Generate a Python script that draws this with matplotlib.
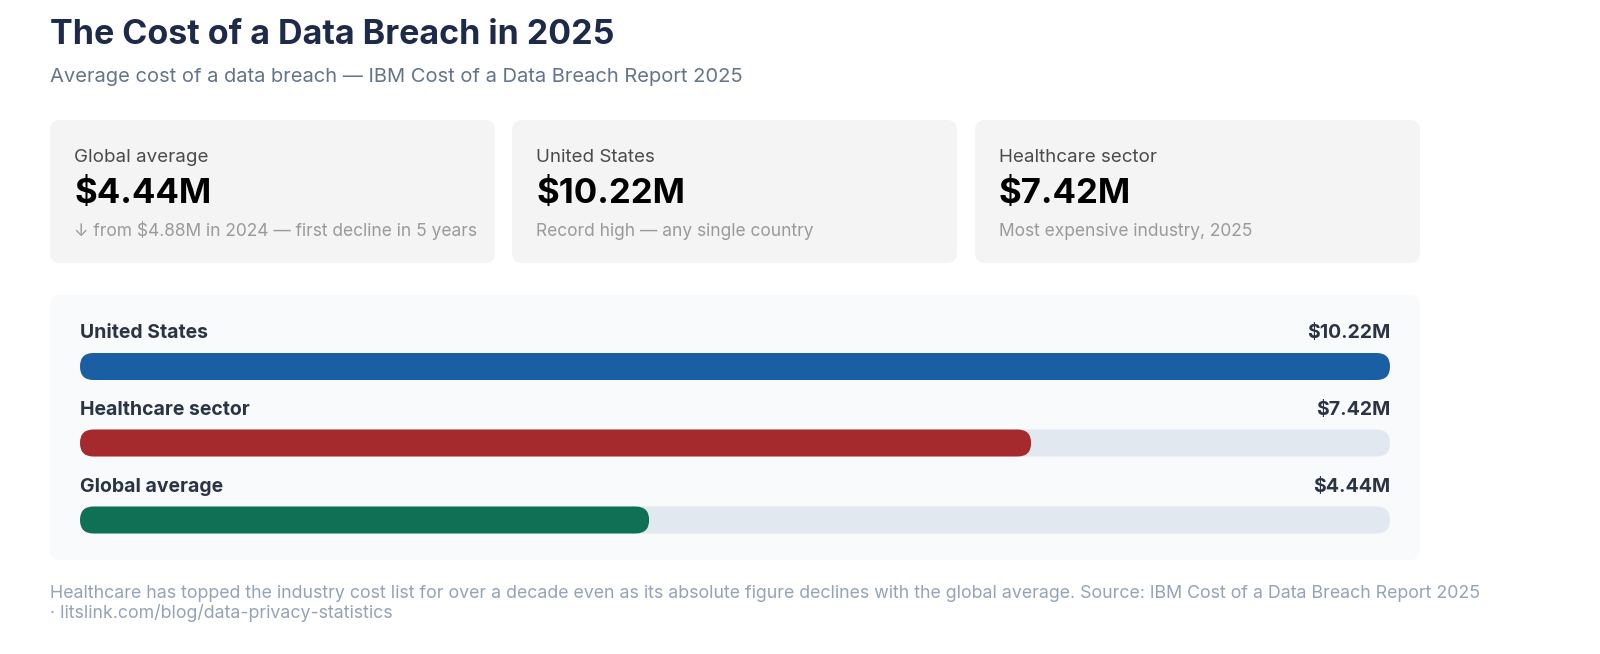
import matplotlib
matplotlib.use("Agg")
import matplotlib.pyplot as plt
from matplotlib.patches import FancyBboxPatch

plt.rcParams['font.family'] = ['Inter', 'DejaVu Sans']

categories = ["United States", "Healthcare sector", "Global average"]
values = [10.22, 7.42, 4.44]
value_labels = ["$10.22M", "$7.42M", "$4.44M"]
colors = ["#1a5fa3", "#a52a2e", "#0f7055"]

card_titles = ["Global average", "United States", "Healthcare sector"]
card_values = ["$4.44M", "$10.22M", "$7.42M"]
card_notes = ["↓ from $4.88M in 2024 — first decline in 5 years",
              "Record high — any single country",
              "Most expensive industry, 2025"]

W, H = 1600, 654
fig = plt.figure(figsize=(16, 6.54), dpi=100)
fig.patch.set_facecolor("white")
bg = fig.add_axes([0, 0, 1, 1])
bg.set_xlim(0, W); bg.set_ylim(H, 0); bg.axis("off")

def rbox(ax, x, y, w, h, r, fc, aspect=1.0):
    ax.add_patch(FancyBboxPatch((x, y), w, h, boxstyle=f"round,pad=0,rounding_size={r}",
                                mutation_aspect=aspect, fc=fc, ec="none"))

bg.text(50, 35, "The Cost of a Data Breach in 2025", fontsize=24.5, fontweight="bold",
        color="#1e2a4a", va="center")
bg.text(50, 77, "Average cost of a data breach — IBM Cost of a Data Breach Report 2025",
        fontsize=14.5, color="#64748b", va="center")

for i, x0 in enumerate([50, 512, 975]):
    rbox(bg, x0, 120, 445, 143, 10, "#f4f4f5")
    bg.text(x0 + 24, 157, card_titles[i], fontsize=13.5, color="#4a4a4a", va="center")
    bg.text(x0 + 24, 194, card_values[i], fontsize=25, fontweight="bold", color="black", va="center")
    bg.text(x0 + 24, 231, card_notes[i], fontsize=12.5, color="#9a9a9a", va="center")

rbox(bg, 50, 295, 1370, 265, 10, "#f8fafc")

bg.text(50, 593, "Healthcare has topped the industry cost list for over a decade even as its absolute figure declines with the global average. Source: IBM Cost of a Data Breach Report 2025",
        fontsize=12.8, color="#94a3b8", va="center")
bg.text(50, 613, "· litslink.com/blog/data-privacy-statistics", fontsize=12.8, color="#94a3b8", va="center")

ax = fig.add_axes([80 / W, 1 - 560 / H, 1310 / W, 265 / H])
vmax = max(values)
ax.set_xlim(0, vmax); ax.set_ylim(560, 295); ax.axis("off")
pxx = 1310 / vmax
centers = [366.5, 443, 520]
bh = 27
r = (bh / 2) / pxx
for cat, v, lab, c, yc in zip(categories, values, value_labels, colors, centers):
    track = ax.barh(yc, vmax, height=bh, color="none")[0]
    bar = ax.barh(yc, v, height=bh, color="none")[0]
    for b, fc in ((track, "#e2e8f0"), (bar, c)):
        rbox(ax, b.get_x(), b.get_y(), b.get_width(), b.get_height(), r, fc, aspect=pxx)
    ax.text(0, yc - 33, cat, fontsize=14, fontweight="bold", color="#2a3444", va="center")
    ax.text(vmax, yc - 33, lab, fontsize=14, fontweight="bold", color="#2a3444", va="center", ha="right")

fig.savefig("out.png", dpi=100)
